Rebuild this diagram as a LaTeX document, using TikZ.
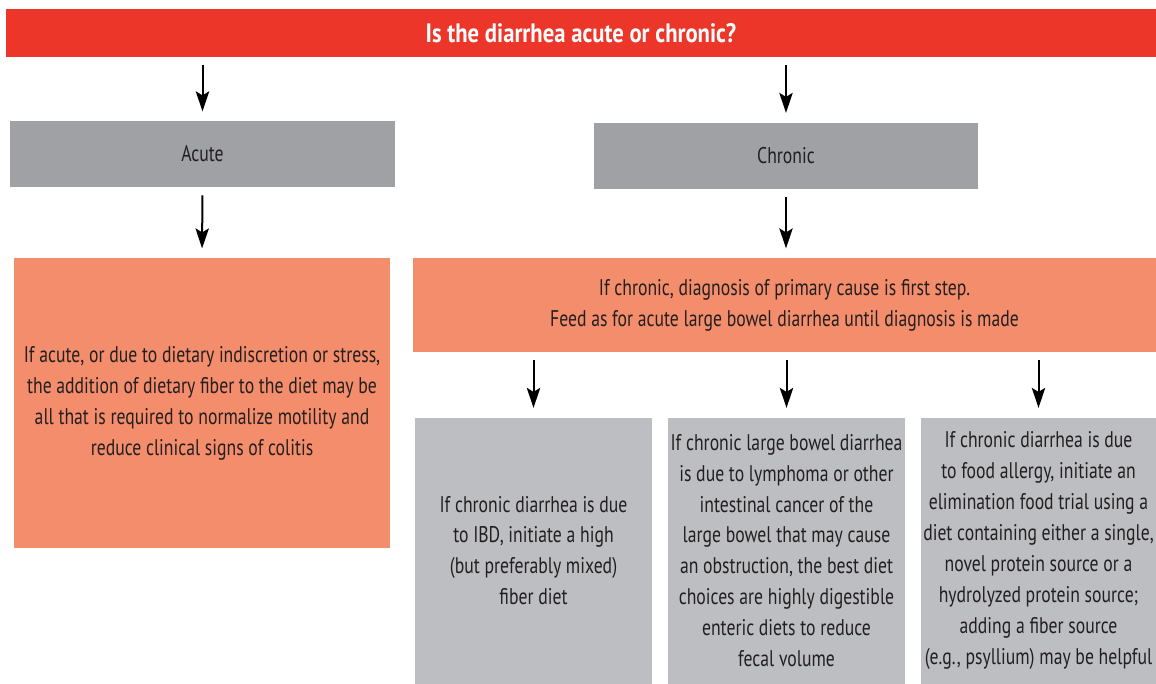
\documentclass[tikz,border=0pt]{standalone}
\usepackage{fontspec}
\setmainfont{PT Sans}[FakeStretch=0.78]
\newfontfamily\titlefont{PT Sans}[FakeStretch=0.85]
\usepackage{tikz}
\usetikzlibrary{arrows.meta}
\definecolor{titlered}{HTML}{EC3629}
\definecolor{darkgrey}{HTML}{A0A1A5}
\definecolor{lightgrey}{HTML}{BDBEC1}
\definecolor{salmon}{HTML}{F48D6C}
\definecolor{ink}{HTML}{231F20}
\tikzstyle{box} = [rectangle, inner sep=0pt, align=center, text=ink, font=\fontsize{17}{23.2}\selectfont]
\tikzstyle{question} = [box, fill=titlered, text=white, font=\titlefont\fontsize{20}{24}\selectfont\bfseries]
\tikzstyle{kind} = [box, fill=darkgrey]
\tikzstyle{advice} = [box, fill=salmon]
\tikzstyle{diet} = [box, fill=lightgrey]
\tikzstyle{arrow} = [line width=1.5pt, -{Stealth[length=15pt, width=10pt, inset=3pt]}, shorten <=6pt, shorten >=7pt]

\begin{document}
\begin{tikzpicture}[x=0.75pt, y=-0.75pt]
        \useasboundingbox (0,0) rectangle (1156,683);
        \node (question) [question, minimum width=1150*0.75pt, minimum height=48*0.75pt] at (581,33) {Is the diarrhea acute or chronic?};
        \node (acute) [kind, minimum width=385*0.75pt, minimum height=66*0.75pt] at (202.5,154) {Acute};
        \node (chronic) [kind, minimum width=384*0.75pt, minimum height=66*0.75pt] at (786,155.5) {Chronic};
        \node (acutefiber) [advice, minimum width=376*0.75pt, minimum height=290*0.75pt] at (202,403) {If acute, or due to dietary indiscretion or stress,\\the addition of dietary fiber to the diet may be\\all that is required to normalize motility and\\reduce clinical signs of colitis};
        \node (diagnosis) [advice, minimum width=743*0.75pt, minimum height=94*0.75pt] at (784.5,305) {If chronic, diagnosis of primary cause is first step.\\Feed as for acute large bowel diarrhea until diagnosis is made};
        \node (ibd) [diet, minimum width=237*0.75pt, minimum height=266*0.75pt] at (533.5,550.5) {If chronic diarrhea is due\\to IBD, initiate a high\\(but preferably mixed)\\fiber diet};
        \node (cancer) [diet, minimum width=237*0.75pt, minimum height=266*0.75pt] at (786.5,550.5) {If chronic large bowel diarrhea\\is due to lymphoma or other\\intestinal cancer of the\\large bowel that may cause\\an obstruction, the best diet\\choices are highly digestible\\enteric diets to reduce\\fecal volume};
        \node (allergy) [diet, minimum width=235*0.75pt, minimum height=266*0.75pt] at (1038.5,550.5) {If chronic diarrhea is due\\to food allergy, initiate an\\elimination food trial using a\\diet containing either a single,\\novel protein source or a\\hydrolyzed protein source;\\adding a fiber source\\(e.g., psyllium) may be helpful};

        \draw [arrow] (question.south -| acute.north) -- (acute.north);
        \draw [arrow] (question.south -| chronic.north) -- (chronic.north);
        \draw [arrow] (acute.south) -- (acutefiber.north);
        \draw [arrow] (chronic.south) -- (diagnosis.north -| chronic.south);
        \draw [arrow] (diagnosis.south -| ibd.north) -- (ibd.north);
        \draw [arrow] (diagnosis.south -| cancer.north) -- (cancer.north);
        \draw [arrow] (diagnosis.south -| allergy.north) -- (allergy.north);
    \end{tikzpicture}
\end{document}
